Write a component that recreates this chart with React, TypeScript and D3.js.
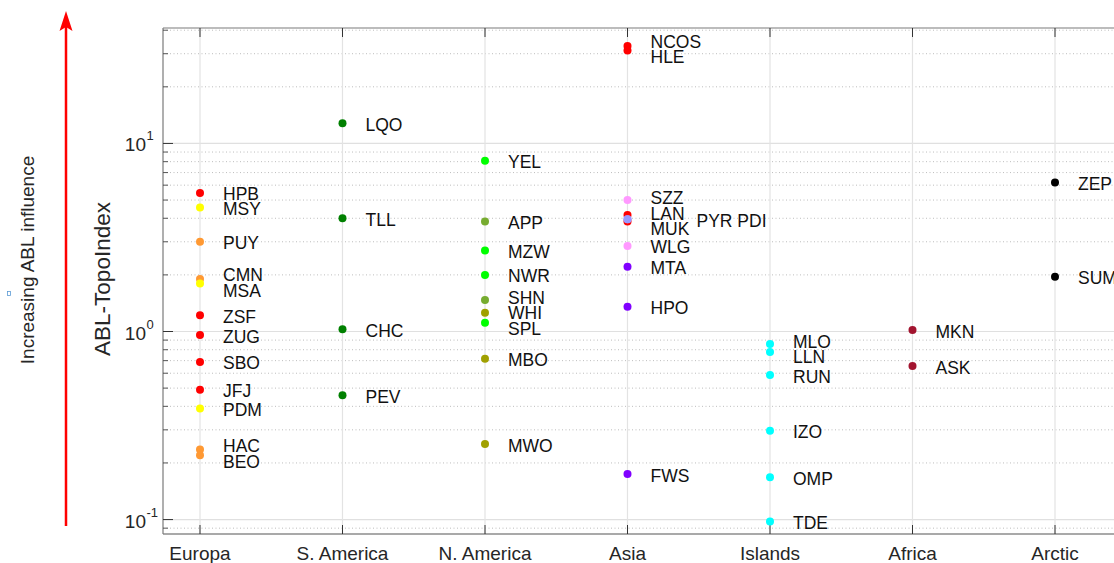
import React from "react";
import * as d3 from "d3";

const categories = ["Europa", "S. America", "N. America", "Asia", "Islands", "Africa", "Arctic"];

type Station = { name: string; value: number; color: string; label?: string; col?: number };

const europa: Station[] = [
  { name: "HPB", value: 5.45, color: "#ff0000" },
  { name: "MSY", value: 4.57, color: "#ffff00" },
  { name: "PUY", value: 3.0, color: "#ff9933" },
  { name: "CMN", value: 1.9, color: "#ff9933" },
  { name: "MSA", value: 1.8, color: "#ffff00" },
  { name: "ZSF", value: 1.22, color: "#ff0000" },
  { name: "ZUG", value: 0.958, color: "#ff0000" },
  { name: "SBO", value: 0.689, color: "#ff0000" },
  { name: "JFJ", value: 0.49, color: "#ff0000" },
  { name: "PDM", value: 0.389, color: "#ffff00" },
  { name: "HAC", value: 0.236, color: "#ff9933" },
  { name: "BEO", value: 0.22, color: "#ff9933" },
];
const southAmerica: Station[] = [
  { name: "LQO", value: 12.8, color: "#008000" },
  { name: "TLL", value: 4.0, color: "#008000" },
  { name: "CHC", value: 1.027, color: "#008000" },
  { name: "PEV", value: 0.458, color: "#008000" },
];
const northAmerica: Station[] = [
  { name: "YEL", value: 8.1, color: "#00ff00" },
  { name: "APP", value: 3.84, color: "#77ac30" },
  { name: "MZW", value: 2.7, color: "#00ff00" },
  { name: "NWR", value: 2.0, color: "#00ff00" },
  { name: "SHN", value: 1.47, color: "#77ac30" },
  { name: "WHI", value: 1.26, color: "#a0a000" },
  { name: "SPL", value: 1.114, color: "#00ff00" },
  { name: "MBO", value: 0.717, color: "#a0a000" },
  { name: "MWO", value: 0.252, color: "#a0a000" },
];
const asia: Station[] = [
  { name: "NCOS", value: 33.0, color: "#ff0000" },
  { name: "HLE", value: 31.2, color: "#ff0000" },
  { name: "SZZ", value: 5.0, color: "#ff99ff" },
  { name: "LAN", value: 4.17, color: "#ff0000" },
  { name: "MUK", value: 3.84, color: "#ff0000" },
  { name: "PYR", value: 3.95, color: "#9999ff", label: "PYR PDI", col: 1 },
  { name: "PDI", value: 3.95, color: "#9999ff", label: "" },
  { name: "WLG", value: 2.85, color: "#ff99ff" },
  { name: "MTA", value: 2.21, color: "#8000ff" },
  { name: "HPO", value: 1.355, color: "#8000ff" },
  { name: "FWS", value: 0.1746, color: "#8000ff" },
];
const islands: Station[] = [
  { name: "MLO", value: 0.858, color: "#00ffff" },
  { name: "LLN", value: 0.778, color: "#00ffff" },
  { name: "RUN", value: 0.587, color: "#00ffff" },
  { name: "IZO", value: 0.297, color: "#00ffff" },
  { name: "OMP", value: 0.168, color: "#00ffff" },
  { name: "TDE", value: 0.0978, color: "#00ffff" },
];
const africa: Station[] = [
  { name: "MKN", value: 1.018, color: "#a2142f" },
  { name: "ASK", value: 0.655, color: "#a2142f" },
];
const arctic: Station[] = [
  { name: "ZEP", value: 6.19, color: "#000000" },
  { name: "SUM", value: 1.956, color: "#000000" },
];

const regions: Station[][] = [europa, southAmerica, northAmerica, asia, islands, africa, arctic];
const majorTicks = [0.1, 1, 10];
const majorTickExponents = ["-1", "0", "1"];

const W = 1114;
const H = 563;
const FONT = "'Liberation Sans', Arial, Helvetica, sans-serif";

export default function App() {
  const left = 163;
  const top = 28;
  const bottom = 534;
  const right = 1140;
  const x = d3.scaleLinear().domain([1, 7]).range([200, 1055]);
  const y = d3.scaleLog().domain([0.0838, 41.1]).range([bottom, top]);
  const [ymin, ymax] = y.domain();

  const minor: number[] = [];
  [0.01, 0.1, 1, 10].forEach((d) => {
    for (let k = 2; k <= 9; k++) {
      const v = d * k;
      if (v > ymin && v < ymax) minor.push(v);
    }
  });

  // label layout with simple collision avoidance
  const labelFs = 17.5;
  const gap = 15.5;
  const labels: { text: string; x: number; y: number }[] = [];
  regions.forEach((stations, i) => {
    const cx = x(i + 1);
    const col0 = stations.filter((s) => s.label === undefined).map((s) => ({ text: s.name, y0: y(s.value) }));
    col0.sort((a, b) => a.y0 - b.y0);
    let clusters: { items: typeof col0 }[] = col0.map((c) => ({ items: [c] }));
    const pos = (cl: { items: typeof col0 }) => {
      const m = d3.mean(cl.items, (d) => d.y0) as number;
      const n = cl.items.length;
      return { start: m - ((n - 1) * gap) / 2, end: m + ((n - 1) * gap) / 2 };
    };
    let changed = true;
    while (changed) {
      changed = false;
      for (let j = 0; j < clusters.length - 1; j++) {
        const a = pos(clusters[j]);
        const b = pos(clusters[j + 1]);
        if (b.start - a.end < gap) {
          clusters[j] = { items: clusters[j].items.concat(clusters[j + 1].items) };
          clusters.splice(j + 1, 1);
          changed = true;
          break;
        }
      }
    }
    clusters.forEach((cl) => {
      const p = pos(cl);
      cl.items.forEach((it, k) => labels.push({ text: it.text, x: cx + 23, y: p.start + k * gap }));
    });
    stations
      .filter((s) => s.label)
      .forEach((s) => labels.push({ text: s.label as string, x: cx + 23 + 46 * (s.col || 1), y: y(s.value) }));
  });

  const allPoints = regions.flatMap((st, i) => st.map((s) => ({ ...s, cx: x(i + 1) })));

  return (
    <svg
      width={W}
      height={H}
      style={{ position: "absolute", left: 0, top: 0, background: "#fff" }}
      fontFamily={FONT}
    >
      <rect x={0} y={0} width={W} height={H} fill="#fff" />
      {/* grid */}
      {minor.map((v) => (
        <line key={"mn" + v} x1={left} x2={right} y1={y(v)} y2={y(v)} stroke="#bdbdbd" strokeWidth={1} strokeDasharray="1 2.5" />
      ))}
      {majorTicks.map((v) => (
        <line key={"mj" + v} x1={left} x2={right} y1={y(v)} y2={y(v)} stroke="#e0e0e0" strokeWidth={1.2} />
      ))}
      {categories.map((c, i) => (
        <line key={"vg" + c} x1={x(i + 1)} x2={x(i + 1)} y1={top} y2={bottom} stroke="#e3e3e3" strokeWidth={1.2} />
      ))}
      {/* axes box */}
      <line x1={left} x2={right} y1={top} y2={top} stroke="#7a7a7a" strokeWidth={1.2} />
      <line x1={left} x2={right} y1={bottom} y2={bottom} stroke="#555" strokeWidth={1.2} />
      <line x1={left} x2={left} y1={top} y2={bottom} stroke="#7a7a7a" strokeWidth={1.2} />
      {/* x ticks */}
      {categories.map((c, i) => (
        <g key={"xt" + c}>
          <line x1={x(i + 1)} x2={x(i + 1)} y1={bottom} y2={bottom - 9} stroke="#333" strokeWidth={1} />
          <line x1={x(i + 1)} x2={x(i + 1)} y1={top} y2={top + 9} stroke="#333" strokeWidth={1} />
          <text x={x(i + 1)} y={560} textAnchor="middle" fontSize={19} fill="#262626">
            {c}
          </text>
        </g>
      ))}
      {/* y ticks */}
      {minor.map((v) => (
        <line key={"ymt" + v} x1={left} x2={left + 5} y1={y(v)} y2={y(v)} stroke="#555" strokeWidth={1} />
      ))}
      {majorTicks.map((v, i) => (
        <g key={"yt" + v}>
          <line x1={left} x2={left + 10} y1={y(v)} y2={y(v)} stroke="#333" strokeWidth={1} />
          <text x={146} y={y(v) + 8} textAnchor="end" fontSize={19} fill="#262626">
            10
          </text>
          <text x={146.5} y={y(v) - 3} textAnchor="start" fontSize={13} fill="#262626">
            {majorTickExponents[i]}
          </text>
        </g>
      ))}
      {/* points */}
      {allPoints.map((p, i) => (
        <circle key={"pt" + i} cx={p.cx} cy={y(p.value)} r={4} fill={p.color} />
      ))}
      {labels.map((l, i) => (
        <text key={"lb" + i} x={l.x} y={l.y + 7.5} fontSize={labelFs} fill="#111">
          {l.text}
        </text>
      ))}
      {/* y label */}
      <text transform="translate(110,279) rotate(-90)" textAnchor="middle" fontSize={22.5} fill="#262626">
        ABL-TopoIndex
      </text>
      {/* arrow */}
      <line x1={66} x2={66} y1={526} y2={26} stroke="#ff0000" strokeWidth={2.5} />
      <path d="M66,11 L72.5,31 L66,27 L59.5,31 Z" fill="#ff0000" />
      <text transform="translate(34,260) rotate(-90)" textAnchor="middle" fontSize={19} fill="#262626">
        Increasing ABL influence
      </text>
      <rect x={7.5} y={291.5} width={3} height={4} fill="none" stroke="#5b9bd5" strokeWidth={0.8} />
    </svg>
  );
}
